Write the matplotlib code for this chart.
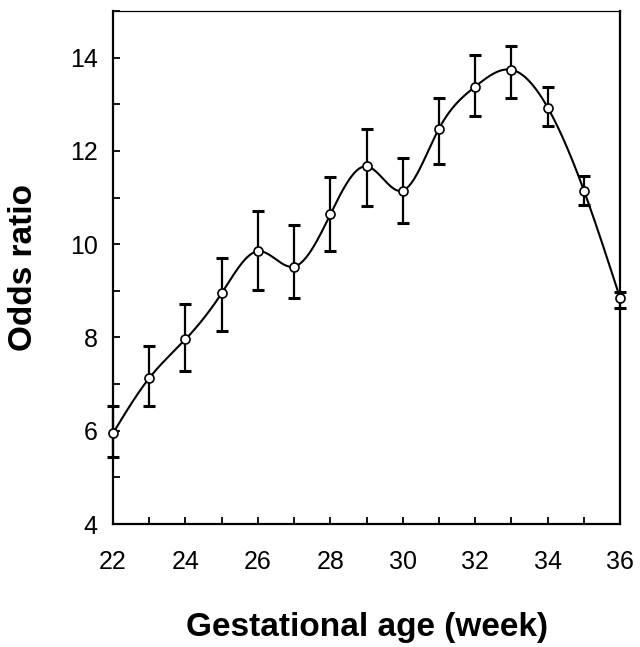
import numpy as np
import matplotlib
matplotlib.use("Agg")
import matplotlib.pyplot as plt
from matplotlib.ticker import MultipleLocator

weeks = [22, 23, 24, 25, 26, 27, 28, 29, 30, 31, 32, 33, 34, 35, 36]
odds = [5.95, 7.13, 7.96, 8.95, 9.85, 9.52, 10.64, 11.67, 11.15, 12.48, 13.38, 13.74, 12.93, 11.15, 8.84]
upper = [6.53, 7.81, 8.71, 9.70, 10.72, 10.42, 11.45, 12.46, 11.84, 13.14, 14.06, 14.26, 13.38, 11.47, 8.97]
lower = [5.43, 6.53, 7.28, 8.13, 9.01, 8.84, 9.85, 10.81, 10.45, 11.73, 12.74, 13.14, 12.54, 10.83, 8.63]


def natural_spline(x, y, xs):
    x = np.asarray(x, float); y = np.asarray(y, float)
    n = len(x)
    h = np.diff(x)
    A = np.zeros((n, n)); b = np.zeros(n)
    A[0, 0] = 1; A[-1, -1] = 1
    for i in range(1, n - 1):
        A[i, i - 1] = h[i - 1]
        A[i, i] = 2 * (h[i - 1] + h[i])
        A[i, i + 1] = h[i]
        b[i] = 6 * ((y[i + 1] - y[i]) / h[i] - (y[i] - y[i - 1]) / h[i - 1])
    M = np.linalg.solve(A, b)
    idx = np.clip(np.searchsorted(x, xs) - 1, 0, n - 2)
    x0 = x[idx]; x1 = x[idx + 1]; hh = x1 - x0
    t0 = x1 - xs; t1 = xs - x0
    return (M[idx] * t0 ** 3 / (6 * hh) + M[idx + 1] * t1 ** 3 / (6 * hh)
            + (y[idx] / hh - M[idx] * hh / 6) * t0
            + (y[idx + 1] / hh - M[idx + 1] * hh / 6) * t1)


fig = plt.figure(figsize=(6.4, 6.47), dpi=100)
ax = fig.add_axes([0.1766, 0.190, 0.7924, 0.793])

xs = np.linspace(weeks[0], weeks[-1], 600)
ax.plot(xs, natural_spline(weeks, odds, xs), color="black", lw=1.5, zorder=2)

yerr = [np.array(odds) - np.array(lower), np.array(upper) - np.array(odds)]
ax.errorbar(weeks, odds, yerr=yerr, fmt="none", ecolor="black", elinewidth=1.6,
            capsize=4, capthick=2.2, zorder=3, clip_on=False)
ax.plot(weeks, odds, "o", ms=6.5, mfc="white", mec="black", mew=1.2, zorder=4, clip_on=False)

ax.set_xlim(22, 36)
ax.set_ylim(4, 15)
ax.xaxis.set_major_locator(MultipleLocator(2))
ax.xaxis.set_minor_locator(MultipleLocator(1))
ax.yaxis.set_major_locator(MultipleLocator(2))
ax.yaxis.set_minor_locator(MultipleLocator(1))
ax.tick_params(which="both", direction="in", top=False, right=False, width=1.3,
               labelsize=18)
ax.tick_params(which="major", length=5)
ax.tick_params(which="minor", length=5)
ax.tick_params(axis="y", which="major", pad=11)
ax.tick_params(axis="x", which="major", pad=19)
ax.set_yticks([4, 6, 8, 10, 12, 14])
for s in ["left", "bottom", "right"]:
    ax.spines[s].set_linewidth(1.6)
ax.spines["top"].set_linewidth(0.9)

for lab in ax.get_xticklabels() + ax.get_yticklabels():
    lab.set_fontfamily("Liberation Sans")

ax.set_xlabel("Gestational age (week)", fontsize=24, fontweight="bold",
              family="Liberation Sans", labelpad=27)
ax.set_ylabel("Odds ratio", fontsize=24, fontweight="bold",
              family="Liberation Sans", labelpad=22)

fig.savefig("out.png", dpi=100)
